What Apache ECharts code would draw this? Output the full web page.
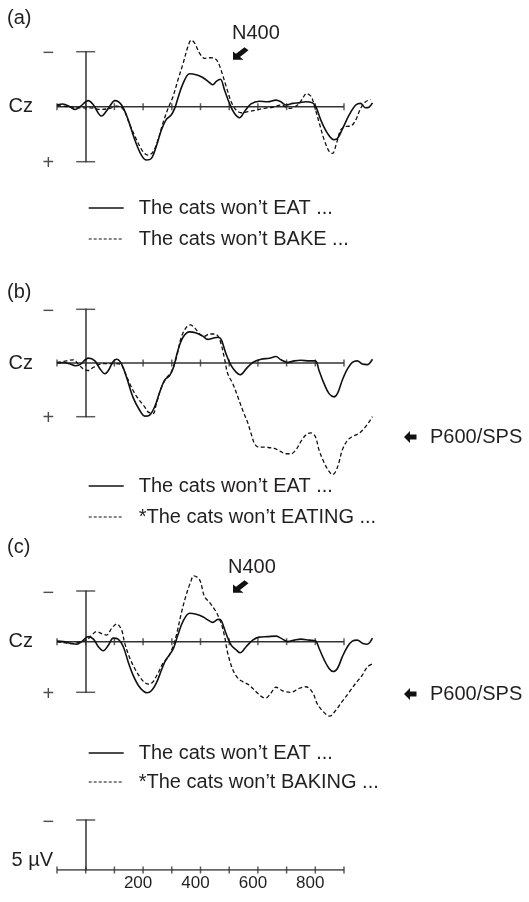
<!DOCTYPE html>
<html>
<head>
<meta charset="utf-8">
<script src="https://cdn.jsdelivr.net/npm/echarts@6/dist/echarts.min.js"></script>
<style>
  html, body { margin: 0; padding: 0; background: #fff; }
  #chart { width: 529px; height: 902px; }
</style>
</head>
<body>
<div id="chart"></div>
<script>
// ERP waveforms at Cz, [ms, µV] (negative plotted up)
const eatA = [[-100,-0.15],[-80,-0.25],[-55,0],[-37,0.25],[-20,0],[9,-0.55],[27,-0.15],[55,0.85],[79,0.15],[102,-0.55],[125,-0.15],[148,1.2],[171,3.0],[194,4.4],[212,4.85],[229,4.7],[246,3.6],[264,2.1],[281,1.15],[298,0.75],[310,0.15],[321,-0.75],[339,-2.1],[362,-3.0],[385,-2.9],[408,-2.65],[431,-2.2],[443,-2.0],[455,-2.3],[469,-2.5],[484,-1.5],[501,-0.3],[518,0.6],[536,1.0],[553,0.45],[576,-0.25],[605,-0.5],[634,-0.45],[663,-0.6],[680,-0.45],[698,-0.15],[721,-0.3],[744,-0.35],[767,-0.45],[790,-0.35],[802,0],[819,1.2],[842,2.4],[865,3.0],[877,2.9],[895,2.0],[918,0.75],[941,-0.15],[958,-0.3],[975,0.1],[987,0.05],[999,-0.35]]
const bakeA = [[-100,-0.1],[-60,0],[-20,0.1],[15,0.1],[50,0.25],[85,0.15],[108,-0.05],[131,0.25],[154,1.65],[177,3.0],[200,4.1],[217,4.4],[235,4.1],[252,3.0],[269,1.5],[287,0.15],[304,-0.9],[321,-2.4],[339,-3.9],[356,-5.45],[368,-6.05],[379,-5.8],[397,-4.85],[414,-4.4],[432,-4.45],[449,-4.4],[460,-4.1],[472,-3.3],[490,-1.8],[507,-0.45],[524,0.3],[542,0.55],[565,0.45],[594,0.3],[623,0.15],[652,0.05],[681,-0.15],[709,0.15],[738,-0.15],[756,-0.75],[769,-1.2],[785,-0.95],[796,-0.15],[814,1.5],[831,3.0],[849,4.1],[860,4.25],[872,3.5],[889,2.1],[906,1.8],[924,1.75],[941,1.2],[958,0.15],[975,-0.45],[993,-0.65]]

const eatB = [[-100,0],[-77,-0.05],[-54,0.1],[-37,0.25],[-20,0.15],[9,-0.45],[32,-0.2],[50,0.55],[67,1.0],[79,0.7],[96,-0.15],[108,-0.35],[125,0.1],[142,1.3],[165,3.2],[188,4.4],[206,4.95],[223,4.85],[240,4.1],[258,2.7],[275,1.6],[292,1.2],[306,0.4],[321,-1.15],[339,-2.4],[362,-2.9],[385,-2.8],[408,-2.5],[425,-2.2],[443,-2.3],[461,-2.4],[472,-2.2],[489,-0.85],[507,0.25],[524,0.85],[538,1.1],[559,0.55],[582,-0.05],[611,-0.35],[640,-0.45],[663,-0.6],[680,-0.3],[704,-0.05],[727,-0.2],[750,-0.25],[779,-0.2],[800,-0.2],[813,0.7],[831,1.95],[848,2.85],[865,3.15],[877,2.85],[894,1.6],[912,0.55],[929,-0.05],[946,-0.2],[964,0.1],[981,0.15],[999,-0.35]]
const eatingB = [[-100,-0.05],[-66,-0.2],[-43,-0.3],[-26,0.1],[-8,0.55],[9,0.7],[27,0.4],[50,0.1],[85,0.05],[120,0.1],[136,0.85],[154,1.95],[171,2.85],[188,3.5],[206,4.1],[217,4.55],[235,4.7],[246,3.8],[264,2.25],[281,1.4],[298,0.85],[316,-0.5],[333,-2.4],[350,-3.3],[364,-3.55],[379,-3.3],[397,-2.7],[414,-2.5],[431,-2.7],[449,-2.7],[461,-2.5],[472,-1.75],[484,-0.35],[495,1.0],[513,1.95],[530,3.15],[547,4.4],[565,5.6],[576,6.55],[588,7.5],[599,7.8],[628,7.85],[657,7.95],[680,8.25],[698,8.45],[715,8.45],[732,8.1],[750,7.3],[767,6.7],[784,6.5],[800,6.85],[813,8.1],[831,9.3],[848,10.1],[860,10.4],[871,10.1],[883,9.2],[894,8.1],[912,7.2],[929,6.85],[952,6.55],[970,6.1],[987,5.5],[999,5.0]]

const eatC = [[-100,-0.05],[-77,0],[-54,0.15],[-31,0.25],[-14,0],[9,-0.5],[27,-0.25],[44,0.5],[61,0.9],[79,0.35],[96,-0.35],[113,-0.25],[131,0.5],[148,2.0],[165,3.3],[183,4.3],[200,4.85],[214,5.05],[229,4.85],[246,4.1],[264,2.8],[279,1.8],[292,1.3],[306,0.65],[321,-0.65],[339,-2.0],[362,-2.8],[385,-2.7],[408,-2.45],[431,-2.05],[443,-1.9],[461,-2.2],[472,-2.1],[489,-0.8],[507,0.35],[524,0.8],[538,1.1],[559,0.5],[582,-0.15],[605,-0.45],[634,-0.5],[663,-0.55],[680,-0.35],[704,0],[727,-0.15],[750,-0.25],[779,-0.15],[800,-0.1],[813,0.65],[831,1.8],[848,2.65],[862,2.95],[877,2.65],[894,1.5],[912,0.5],[929,-0.05],[946,-0.15],[964,0.15],[981,0.25],[999,-0.35]]
const bakingC = [[-100,0],[-66,0.15],[-43,0.2],[-20,0],[3,-0.15],[21,-0.65],[38,-1.0],[55,-0.8],[73,-0.65],[90,-1.3],[108,-1.75],[125,-1.15],[136,0.15],[154,1.65],[171,2.65],[188,3.45],[206,4.05],[221,4.2],[235,3.95],[252,3.1],[269,2.15],[287,1.55],[302,0.65],[316,-0.65],[333,-2.8],[350,-4.6],[364,-5.75],[377,-6.5],[397,-6.1],[414,-4.45],[432,-3.85],[455,-2.9],[472,-1.8],[484,-0.5],[495,1.15],[513,2.8],[530,3.6],[547,3.95],[570,4.3],[599,5.1],[617,5.5],[628,5.55],[645,5.1],[663,4.5],[686,4.85],[715,5.0],[744,4.6],[767,4.45],[790,5.0],[808,6.2],[831,7.0],[850,7.35],[868,6.9],[894,5.9],[918,5.0],[941,4.1],[964,3.3],[981,2.5],[999,2.2]]

const baseline = [[-100, 0], [900, 0]]
const tickTimes = [-100, 0, 100, 200, 300, 400, 500, 600, 700, 800, 900]
const tickLabels = [200, 400, 600, 800]

const EAT = 'The cats won\u2019t EAT ...'
const panelNames = [
  [EAT, 'The cats won\u2019t BAKE ...'],
  [EAT, '*The cats won\u2019t EATING ...'],
  [EAT, '*The cats won\u2019t BAKING ...']
]
const panelData = [[eatA, bakeA], [eatB, eatingB], [eatC, bakingC]]

const FONT = '"Liberation Sans", Arial, Helvetica, sans-serif'
const INK = '#231f20'
const AXIS = '#333'

const chart = echarts.init(document.getElementById('chart'))

// pixel layout of the four panels (x runs -100..1000 ms)
const grids = [
  { left: 57, width: 315.7, top: 51.7, height: 110 },
  { left: 57, width: 315.7, top: 309.3, height: 107.4 },
  { left: 57, width: 315.7, top: 591, height: 101.3 },
  { left: 57, width: 315.7, top: 820, height: 50 }
]

const xAxes = grids.map((g, i) => ({
  type: 'value',
  gridIndex: i,
  min: -100,
  max: 1000,
  interval: 100,
  axisLine: { show: false, onZero: true },
  axisTick: { show: false },
  splitLine: { show: false },
  axisLabel: {
    show: i === 3,
    margin: 5,
    fontSize: 17,
    color: INK,
    fontFamily: FONT,
    padding: [0, 10, 0, 0],
    formatter: v => tickLabels.includes(v) ? String(v) : ''
  },
  name: i === 3 ? '5 \u00b5V' : 'Cz',
  nameLocation: 'start',
  nameGap: i === 3 ? 4 : 24,
  nameTextStyle: i === 3
    ? { fontSize: 20, color: INK, fontFamily: FONT, verticalAlign: 'bottom', lineHeight: 20 }
    : { fontSize: 20, color: INK, fontFamily: FONT }
}))

const yAxes = grids.map((g, i) => ({
  type: 'value',
  gridIndex: i,
  inverse: true,
  min: -5,
  max: i === 3 ? 0 : 5,
  interval: 5,
  axisLine: { onZero: true, lineStyle: { color: AXIS, width: 1.5 } },
  axisTick: { show: false },
  splitLine: { show: false },
  axisLabel: { show: false }
}))

const series = []
grids.forEach((g, i) => {
  // time axis line, -100..900 ms
  series.push({
    type: 'line', xAxisIndex: i, yAxisIndex: i, silent: true,
    data: baseline, symbol: 'none',
    lineStyle: { color: AXIS, width: 1.5 }, z: 3
  })
  // small ticks crossing the time axis
  series.push({
    type: 'scatter', xAxisIndex: i, yAxisIndex: i, silent: true,
    symbol: 'rect', symbolSize: [1.5, 7],
    itemStyle: { color: AXIS },
    data: tickTimes.map(t => [t, 0]), z: 3
  })
  // caps of the amplitude bar, with − / + polarity marks
  series.push({
    type: 'scatter', xAxisIndex: i, yAxisIndex: i, silent: true,
    symbol: 'rect', symbolSize: [19, 1.5],
    itemStyle: { color: AXIS },
    label: {
      show: true, position: 'left', distance: 22, offset: [0, 2],
      fontSize: 20, color: INK, fontFamily: FONT,
      formatter: p => p.value[1] < 0 ? '\u2212' : '+'
    },
    data: i === 3 ? [[0, -5]] : [[0, -5], [0, 5]], z: 3
  })
})

panelData.forEach((pair, i) => {
  series.push({
    name: panelNames[i][0], type: 'line', xAxisIndex: i, yAxisIndex: i,
    data: pair[0], symbol: 'none', smooth: 0.35, clip: false, silent: true,
    itemStyle: { color: '#111' },
    lineStyle: { color: '#111', width: 1.6 }, z: 4
  })
  series.push({
    name: panelNames[i][1], type: 'line', xAxisIndex: i, yAxisIndex: i,
    data: pair[1], symbol: 'none', smooth: 0.35, clip: false, silent: true,
    itemStyle: { color: '#111' },
    lineStyle: { color: '#111', width: 1.3, type: [4, 2.5] }, z: 4
  })
})

const noDot = { color: 'rgba(0,0,0,0)', borderColor: 'rgba(0,0,0,0)', borderWidth: 0, opacity: 0 }
const legendTops = [197, 475, 742]
const legendGaps = [9, 9, 7]
const legends = panelNames.map((names, i) => ({
  orient: 'vertical',
  left: 88,
  top: legendTops[i],
  padding: 0,
  itemGap: legendGaps[i],
  itemWidth: 35,
  itemHeight: 14,
  selectedMode: false,
  textStyle: { fontSize: 20, color: INK, fontFamily: FONT, lineHeight: 22, padding: [0, 0, 0, 10] },
  data: [
    { name: names[0], itemStyle: noDot, lineStyle: { width: 1.4, color: '#111' } },
    { name: names[1], itemStyle: noDot, lineStyle: { width: 1.1, color: '#111', type: [3, 2] } }
  ]
}))

const titleStyle = { fontSize: 20, fontWeight: 'normal', color: INK, fontFamily: FONT }
const titles = [
  { text: '(a)', left: 7, top: 8 },
  { text: '(b)', left: 7, top: 282 },
  { text: '(c)', left: 7, top: 537 }
].map(t => Object.assign({ padding: 0, textStyle: titleStyle }, t))

// annotation arrows
const swArrow = [[0, 13], [0, 2.5], [3.0, 5.5], [11.5, -3], [15.5, 1], [7.0, 9.5], [10.5, 13]]
const leftArrow = [[0, 0], [6, -6], [6, -2.6], [12.5, -2.6], [12.5, 2.6], [6, 2.6], [6, 6]]
const textG = (text, x, y) => ({
  type: 'text', x: x, y: y,
  style: { text: text, font: '20px ' + FONT, fill: INK, align: 'left', verticalAlign: 'middle' }
})

chart.setOption({
  animation: false,
  backgroundColor: '#fff',
  title: titles,
  grid: grids,
  xAxis: xAxes,
  yAxis: yAxes,
  legend: legends,
  series: series,
  graphic: [
    textG('N400', 232, 33),
    { type: 'polygon', x: 233, y: 49.5, scaleY: 0.78, shape: { points: swArrow }, style: { fill: '#111' } },
    textG('N400', 228, 567),
    { type: 'polygon', x: 233, y: 582.5, scaleY: 0.78, shape: { points: swArrow }, style: { fill: '#111' } },
    { type: 'polygon', x: 404, y: 437, shape: { points: leftArrow }, style: { fill: '#111' } },
    textG('P600/SPS', 430, 437),
    { type: 'polygon', x: 404, y: 694, shape: { points: leftArrow }, style: { fill: '#111' } },
    textG('P600/SPS', 430, 694)
  ]
})
</script>
</body>
</html>
